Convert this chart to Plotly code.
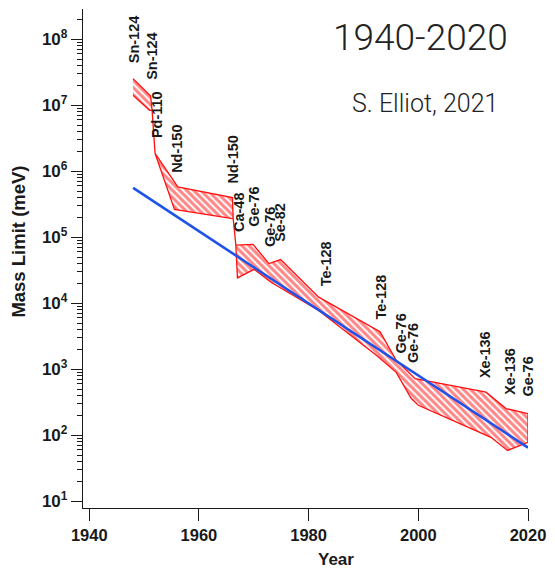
import numpy as np
import plotly.graph_objects as go

# Upper edge of the 0vbb effective-mass limit band (year, meV)
upper_year = [1947.98, 1951.19, 1951.46, 1952.0, 1956.14, 1966.11, 1966.24, 1966.73,
              1969.86, 1972.77, 1974.89, 1981.83, 1993.02, 1995.97, 1999.42, 2012.35,
              2015.98, 2020.0]
upper_mass = [2.54e7, 1.38e7, 8.4e6, 1.87e6, 5.8e5, 4.0e5, 1.94e5, 7.6e4,
              7.8e4, 4.0e4, 4.6e4, 1.24e4, 3.7e3, 1.37e3, 720, 450,
              254, 213]

# Lower edge of the band
lower_year = [1947.98, 1951.0, 1951.46, 1952.0, 1955.54, 1966.11, 1966.24, 1966.73,
              1967.02, 1970.05, 1973.07, 1981.83, 1992.35, 1995.97, 1998.69, 2000.0,
              2013.25, 2016.28, 2020.0]
lower_mass = [1.42e7, 8.4e6, 8.4e6, 1.87e6, 2.65e5, 1.92e5, 1.94e5, 7.6e4,
              2.43e4, 3.27e4, 2.1e4, 7.8e3, 1.63e3, 900, 364, 285,
              93, 59, 78]

# Exponential trend through the limits
fit_year = [1948.0, 2020.0]
fit_mass = [5.6e5, 65]

# Isotope used by each experiment, placed above its limit
label_text = ["Sn-124", "Sn-124", "Pd-110", "Nd-150", "Nd-150", "Ca-48", "Ge-76",
              "Ge-76", "Se-82", "Te-128", "Te-128", "Ge-76", "Ge-76", "Xe-136",
              "Xe-136", "Ge-76"]
label_year = [1948.1, 1951.4, 1952.4, 1956.1, 1966.2, 1967.2, 1970.05,
              1973.0, 1974.9, 1983.2, 1993.2, 1996.9, 1999.0, 2012.2,
              2016.6, 2020.0]
label_mass = [4.0e7, 2.25e7, 2.95e6, 8.7e5, 6.1e5, 1.14e5, 1.35e5,
              6.7e4, 8.0e4, 1.67e4, 5.2e3, 1.63e3, 1.15e3, 680,
              380, 360]

x_ticks = [1940, 1960, 1980, 2000, 2020]
y_exponents = [1, 2, 3, 4, 5, 6, 7, 8]
y_range = [0.898, 8.46]

RED = "#ff1010"
BLUE = "#1f52e8"
INK = "#1a1a1a"
BOLD = dict(family="Liberation Sans, Arial, sans-serif", color=INK, weight="bold")

fig = go.Figure()

band_x = upper_year + lower_year[::-1]
band_y = upper_mass + lower_mass[::-1]
fig.add_trace(go.Scatter(
    x=band_x, y=band_y, mode="lines", fill="toself",
    fillcolor="rgba(255,255,255,0)",
    fillpattern=dict(shape="\\", fgcolor=RED, bgcolor="rgba(255,255,255,0)",
                     size=5, solidity=0.62),
    line=dict(color=RED, width=1.3),
    cliponaxis=False, hoverinfo="skip", showlegend=False,
))

fig.add_trace(go.Scatter(
    x=fit_year, y=fit_mass, mode="lines",
    line=dict(color=BLUE, width=2.6),
    cliponaxis=False, showlegend=False,
))

for txt, yr, m in zip(label_text, label_year, label_mass):
    fig.add_annotation(
        x=yr, y=np.log10(m), xref="x", yref="y", text=txt, showarrow=False,
        textangle=-90, xanchor="center", yanchor="bottom",
        font=dict(size=14.5, **BOLD),
    )

minor_vals = [k * 10.0 ** e for e in range(1, 9) for k in range(2, 10)
              if k * 10.0 ** e < 2.9e8]

fig.update_xaxes(
    range=[1938.86, 2020.0], showgrid=False, zeroline=False,
    showline=True, linecolor=INK, linewidth=1.3,
    ticks="outside", ticklen=12, tickwidth=1.3, tickcolor=INK,
    tickvals=x_ticks, ticktext=[str(v) for v in x_ticks],
    tickfont=dict(size=16.5, **BOLD),
)
fig.update_yaxes(
    type="log", range=y_range, showgrid=False, zeroline=False,
    showline=True, linecolor=INK, linewidth=1.3,
    ticks="outside", ticklen=11, tickwidth=1.3, tickcolor=INK,
    tickvals=[10.0 ** e for e in y_exponents],
    ticktext=[f"10<sup>{e}</sup>" for e in y_exponents],
    tickfont=dict(size=17, **BOLD),
    minor=dict(tickmode="array", tickvals=minor_vals, ticks="outside",
               ticklen=5, tickwidth=1.1, tickcolor=INK, showgrid=False),
)

# Axis titles
fig.add_annotation(x=0.5696, y=-0.104, xref="paper", yref="paper", text="Year",
                   showarrow=False, xanchor="center", yanchor="middle",
                   font=dict(size=17, **BOLD))
fig.add_annotation(x=-0.147, y=0.533, xref="paper", yref="paper",
                   text="Mass Limit (meV)", textangle=-90, showarrow=False,
                   xanchor="center", yanchor="middle", font=dict(size=18.5, **BOLD))

# Title block
fig.add_annotation(x=0.759, y=0.942, xref="paper", yref="paper", text="1940-2020",
                   showarrow=False, xanchor="center", yanchor="middle",
                   font=dict(family="Roboto", size=37, color="#222222", weight=300))
fig.add_annotation(x=0.768, y=0.8115, xref="paper", yref="paper",
                   text="S. Elliot, 2021", showarrow=False,
                   xanchor="center", yanchor="middle",
                   font=dict(family="Roboto", size=25, color="#222222", weight=300))

fig.update_layout(
    width=555, height=570, autosize=False,
    margin=dict(l=83, r=24.3, t=9, b=62.3),
    paper_bgcolor="white", plot_bgcolor="white",
)

fig.write_html("out.html")
